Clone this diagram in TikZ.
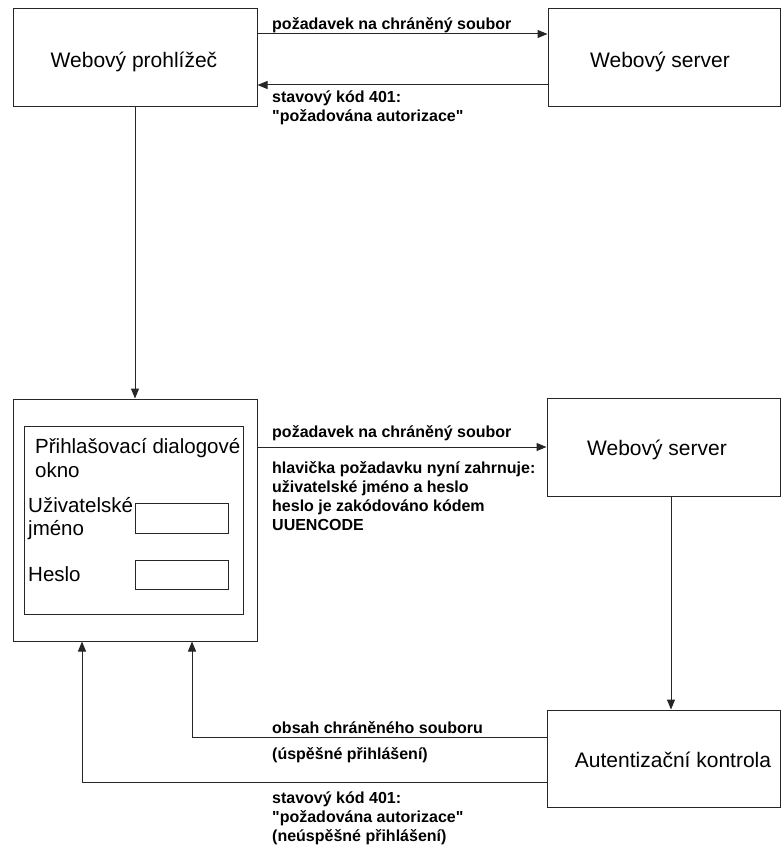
\documentclass[tikz,border=0pt]{standalone}
\usepackage{fontspec}
\setmainfont{Liberation Sans}[Ligatures=TeXOff]
\usetikzlibrary{arrows.meta}
\begin{document}
\begin{tikzpicture}[x=1pt,y=-1pt,
  box/.style={draw=black!85, line width=1pt, inner sep=0pt},
  btxt/.style={font=\fontsize{21}{24}\selectfont, anchor=base, inner sep=0pt},
  dtxt/.style={font=\fontsize{20.5}{23.5}\selectfont, anchor=base west, align=left, inner sep=0pt},
  lbl/.style={font=\fontsize{16}{19}\selectfont\bfseries, anchor=base west, align=left, inner sep=0pt},
  arr/.style={draw=black!85, line width=1pt, -{Triangle[length=10pt,width=8pt]}}]
\useasboundingbox[fill=white] (0,0) rectangle (781,850);
% boxes
\node[box, minimum width=244pt, minimum height=98pt] (A) at (135,58) {};
\node[btxt] (At) at (134,68) {Webový prohlížeč};
\node[box, minimum width=232pt, minimum height=98pt] (B) at (664,58) {};
\node[btxt] (Bt) at (660,68) {Webový server};
\node[box, minimum width=244pt, minimum height=242pt] (D) at (135,520) {};
\node[box, minimum width=219pt, minimum height=188pt] (Din) at (133.5,520) {};
\node[box, minimum width=93pt, minimum height=30pt] (F1) at (181.5,518) {};
\node[box, minimum width=93pt, minimum height=29pt] (F2) at (181.5,574.5) {};
\node[dtxt] (Dt) at (35,477) {Přihlašovací dialogové\\okno};
\node[dtxt] (Ut) at (28,535.5) {Uživatelské\\jméno};
\node[dtxt] (Ht) at (28,581) {Heslo};
\node[box, minimum width=233pt, minimum height=98pt] (B2) at (663.5,447) {};
\node[btxt] (B2t) at (657,455) {Webový server};
\node[box, minimum width=233pt, minimum height=97pt] (C) at (663.5,758.5) {};
\node[btxt] (Ct) at (673,767) {Autentizační kontrola};
% connectors
\draw[arr] ([yshift=24pt]A.east) -- ([yshift=24pt]B.west);
\draw[arr] ([yshift=-27pt]B.west) -- ([yshift=-27pt]A.east);
\draw[arr] (A.south) -- (D.north);
\draw[arr] (D.east |- B2.west) -- (B2.west);
\draw[arr] ([xshift=7.5pt]B2.south) -- ([xshift=7.5pt]B2.south |- C.north);
\draw[arr] ([yshift=21.5pt]C.west) -| ([xshift=57pt]D.south);
\draw[arr] ([yshift=-23.5pt]C.west) -| ([xshift=-53pt]D.south);
% labels
\node[lbl] (l1) at (272,30) {požadavek na chráněný soubor};
\node[lbl] (l2) at (272,122) {stavový kód 401:\\"požadována autorizace"};
\node[lbl] (l3) at (272,437) {požadavek na chráněný soubor};
\node[lbl] (l4) at (272,530) {hlavička požadavku nyní zahrnuje:\\uživatelské jméno a heslo\\heslo je zakódováno kódem\\UUENCODE};
\node[lbl] (l5) at (272,733) {obsah chráněného souboru};
\node[lbl] (l6) at (272,759) {(úspěšné přihlášení)};
\node[lbl] (l7) at (272,841) {stavový kód 401:\\"požadována autorizace"\\(neúspěšné přihlášení)};
\end{tikzpicture}
\end{document}
